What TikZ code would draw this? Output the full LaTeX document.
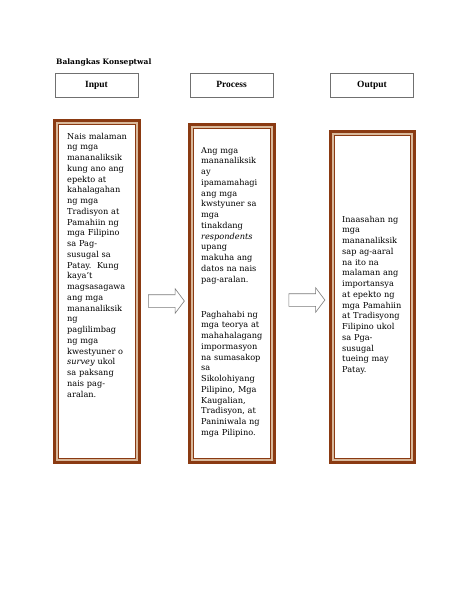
\documentclass[tikz,border=0pt]{standalone}
\usepackage{fontspec}
\setmainfont{DejaVu Serif}
\newfontfamily\headfont{Liberation Serif}
\usetikzlibrary{shapes.arrows,calc}
\definecolor{frame}{HTML}{8A3A12}
\definecolor{frametan}{HTML}{D9B99B}
\definecolor{boxgray}{HTML}{707070}
\definecolor{arrowgray}{HTML}{7A7A7A}
\tikzset{
  headbox/.style={draw=boxgray,line width=0.8pt,minimum width=83pt,minimum height=24pt,
    inner sep=0pt,text height=6.5pt,text depth=2.5pt,font=\headfont\bfseries\fontsize{9.5}{11}\selectfont},
  framebox/.style={draw=frame,line width=2.6pt,anchor=north west,inner sep=0pt,outer sep=0pt},
  tanline/.style={draw=frametan,line width=2pt},
  innerline/.style={draw=frame,line width=0.8pt},
  bodytext/.style={font=\fontsize{8.2}{10.75}\selectfont,align=left,text width=76pt,
    inner sep=0pt,anchor=base west},
  blockarr/.style={draw=arrowgray,line width=0.6pt,fill=white,single arrow,
    single arrow head extend=6pt,single arrow tip angle=106,minimum height=36pt,
    inner xsep=0pt,inner ysep=6pt},
}
\begin{document}
\begin{tikzpicture}[x=1pt,y=-1pt]
  \useasboundingbox[fill=white] (0,0) rectangle (474,613);
  \node[font=\bfseries\fontsize{7.5}{9}\selectfont,anchor=base west,inner sep=0pt] (title) at (56,64) {Balangkas Konseptwal};
  % header boxes
  \node[headbox] (hin) at (96.5,85) {Input};
  \node[headbox] (hproc) at (231.5,85.5) {Process};
  \node[headbox] (hout) at (372,85) {Output};
  % framed columns
  \node[framebox,minimum width=85pt,minimum height=342pt] (inbox) at (54.3,120.3) {};
  \node[framebox,minimum width=85pt,minimum height=338pt] (procbox) at (189.3,124.3) {};
  \node[framebox,minimum width=84pt,minimum height=331pt] (outbox) at (330.3,131.3) {};
  \foreach \b in {inbox,procbox,outbox}{
    \draw[tanline] ($(\b.north west)+(2.3,2.3)$) rectangle ($(\b.south east)+(-2.3,-2.3)$);
    \draw[innerline] ($(\b.north west)+(3.8,3.8)$) rectangle ($(\b.south east)+(-3.8,-3.8)$);
  }
  % texts
  \node[bodytext] (intext) at (67,139) {Nais malaman\\ng mga\\mananaliksik\\kung ano ang\\epekto at\\kahalagahan\\ng mga\\Tradisyon at\\Pamahiin ng\\mga Filipino\\sa Pag-\\susugal sa\\Patay.\ \ Kung\\kaya't\\magsasagawa\\ang mga\\mananaliksik\\ng\\paglilimbag\\ng mga\\kwestyuner o\\\textit{survey} ukol\\sa paksang\\nais pag-\\aralan.};
  \node[bodytext] (proctextA) at (201,153) {Ang mga\\mananaliksik\\ay\\ipamamahagi\\ang mga\\kwstyuner sa\\mga\\tinakdang\\\textit{respondents}\\upang\\makuha ang\\datos na nais\\pag-aralan.};
  \node[bodytext] (proctextB) at (201,317) {Paghahabi ng\\mga teorya at\\mahahalagang\\impormasyon\\na sumasakop\\sa\\Sikolohiyang\\Pilipino, Mga\\Kaugalian,\\Tradisyon, at\\Paniniwala ng\\mga Pilipino.};
  \node[bodytext] (outtext) at (342,222) {Inaasahan ng\\mga\\mananaliksik\\sap ag-aaral\\na ito na\\malaman ang\\importansya\\at epekto ng\\mga Pamahiin\\at Tradisyong\\Filipino ukol\\sa Pga-\\susugal\\tueing may\\Patay.};
  % block arrows
  \node[blockarr] (arrA) at (164,301) {};
  \node[blockarr] (arrB) at (304.5,300) {};
\end{tikzpicture}
\end{document}
